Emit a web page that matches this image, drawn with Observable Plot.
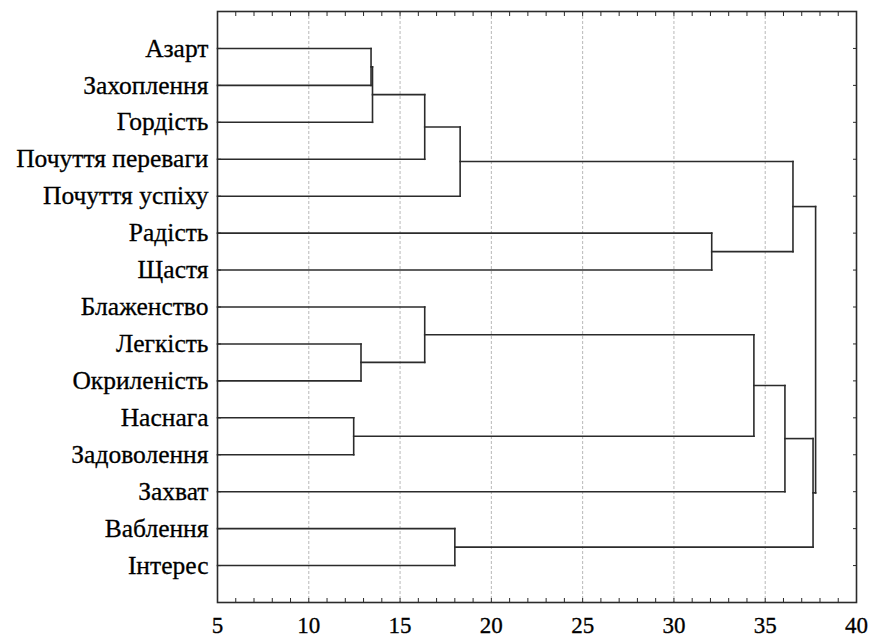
<!DOCTYPE html>
<html>
<head>
<meta charset="utf-8">
<script src="https://cdn.jsdelivr.net/npm/d3@7"></script>
<script src="https://cdn.jsdelivr.net/npm/@observablehq/plot@0.6"></script>
<style>
  html, body { margin: 0; padding: 0; background: #fff; }
  #chart svg { display: block; }
</style>
</head>
<body>
<div id="chart"></div>
<script>
// Leaves (top to bottom)
const leaves = [
  "Азарт", "Захоплення", "Гордість", "Почуття переваги", "Почуття успіху",
  "Радість", "Щастя", "Блаженство", "Легкість", "Окриленість",
  "Наснага", "Задоволення", "Захват", "Ваблення", "Інтерес"
];
// Linkage: node ids 0..14 are leaves, merges create ids 15, 16, ...
const mergeLeft   = [0, 15, 16, 17, 5, 18, 8, 7, 10, 22, 24, 13, 25, 20];
const mergeRight  = [1, 2, 3, 4, 6, 19, 9, 21, 11, 23, 12, 14, 26, 27];
const mergeHeight = [13.41, 13.49, 16.35, 18.29, 32.07, 36.52, 12.86, 16.35, 12.46, 34.38, 36.08, 18.0, 37.62, 37.76];

const xTicks = [5, 10, 15, 20, 25, 30, 35, 40];
const xMinor = d3.range(5, 41, 1);
const gridX = [10, 15, 20, 25, 30, 35];
const xMin = 5, xMax = 40;

// Build node positions and dendrogram segments
const nodes = leaves.map((name, i) => ({x: xMin, y: i + 1}));
const segs = [];
mergeLeft.forEach((a, k) => {
  const b = mergeRight[k], h = mergeHeight[k];
  const A = nodes[a], B = nodes[b];
  segs.push({x1: A.x, y1: A.y, x2: h, y2: A.y});
  segs.push({x1: B.x, y1: B.y, x2: h, y2: B.y});
  segs.push({x1: h, y1: A.y, x2: h, y2: B.y});
  nodes.push({x: h, y: (A.y + B.y) / 2});
});

const leafPos = leaves.map((d, i) => i + 1);
const lineColor = "#2b2b2b";
const FONT = "'Liberation Serif', 'Times New Roman', serif";

const chart = Plot.plot({
  width: 870,
  height: 639,
  marginLeft: 217,
  marginRight: 14,
  marginTop: 11,
  marginBottom: 37,
  style: {fontFamily: FONT, color: "#000", background: "#fff"},
  x: {domain: [xMin, xMax], label: null},
  y: {domain: [0, leaves.length + 1], reverse: true, label: null},
  marks: [
    Plot.ruleX(gridX, {stroke: "#b8b8b8", strokeWidth: 1, strokeDasharray: "3,2"}),
    Plot.link(segs, {x1: "x1", y1: "y1", x2: "x2", y2: "y2", stroke: lineColor, strokeWidth: 1.6, strokeLinecap: "square"}),
    Plot.axisX({anchor: "bottom", ticks: xTicks, tickSize: 0, tickPadding: 14, fontSize: 23, fill: "#000", label: null, tickFormat: d => String(d)}),
    Plot.axisX({anchor: "bottom", ticks: xMinor, tickSize: -4, text: null, label: null, stroke: lineColor}),
    Plot.axisX({anchor: "top", ticks: xMinor, tickSize: -4, text: null, label: null, stroke: lineColor}),
    Plot.axisY({anchor: "left", ticks: leafPos, tickSize: 0, tickPadding: 9, fontSize: 25.5, fill: "#000", label: null, tickFormat: d => leaves[d - 1]}),
    Plot.axisY({anchor: "left", ticks: leafPos, tickSize: -4, text: null, label: null, stroke: lineColor}),
    Plot.axisY({anchor: "right", ticks: leafPos, tickSize: -4, text: null, label: null, stroke: lineColor}),
    Plot.frame({stroke: lineColor, strokeWidth: 1.6})
  ]
});
// force the serif font directly on every text node; slight stroke for a heavier look
d3.select(chart).attr("font-family", FONT).style("font-family", FONT);
d3.select(chart).selectAll("text")
  .attr("font-family", FONT)
  .style("font-family", FONT)
  .style("stroke", "#000")
  .style("stroke-width", "0.3px");
document.getElementById("chart").appendChild(chart);
</script>
</body>
</html>
